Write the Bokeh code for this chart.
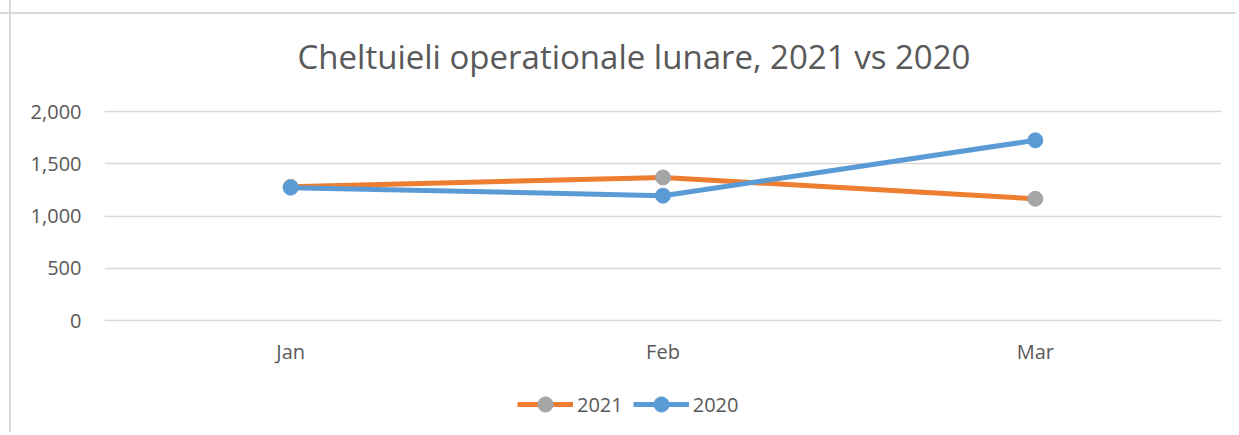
from bokeh.plotting import figure
from bokeh.models import ColumnDataSource, Legend, LegendItem, NumeralTickFormatter, FixedTicker, Range1d
from bokeh.embed import file_html
from bokeh.resources import INLINE

months = ["Jan", "Feb", "Mar"]
y2021 = [1280, 1370, 1165]
y2020 = [1272, 1195, 1725]
yticks = [0, 500, 1000, 1500, 2000]

TXT = "#595959"
GRID = "#D9D9D9"
FONT = "Open Sans"

src = ColumnDataSource(dict(m=months, a=y2021, b=y2020))

p = figure(x_range=months, y_range=Range1d(-1053, 2020),
           frame_width=1117, frame_height=321,
           output_backend="svg", toolbar_location=None,
           min_border_left=104, min_border_right=15, min_border_top=109, min_border_bottom=2)
p.border_fill_color = None
p.background_fill_color = "white"
p.outline_line_color = None
p.styles = {"background": "linear-gradient(#D9D9D9,#D9D9D9) 0 12px / 100% 2px no-repeat, "
                          "linear-gradient(#D9D9D9,#D9D9D9) 9px 0 / 2px 100% no-repeat"}

p.title.text = "Cheltuieli operationale lunare, 2021 vs 2020"
p.title.align = "left"
p.title.text_font = FONT
p.title.text_font_style = "normal"
p.title.text_font_size = "33px"
p.title.text_color = TXT
p.title.offset = 193
p.title.standoff = 61

p.xgrid.grid_line_color = None
p.ygrid.grid_line_color = GRID
p.ygrid.grid_line_width = 1.5
p.yaxis.ticker = FixedTicker(ticks=yticks)
p.yaxis.formatter = NumeralTickFormatter(format="0,0")
for ax in (p.xaxis, p.yaxis):
    ax.axis_line_color = None
    ax.major_tick_line_color = None
    ax.minor_tick_line_color = None
    ax.major_label_text_font = FONT
    ax.major_label_text_font_size = "20px"
    ax.major_label_text_color = TXT
p.yaxis.major_label_standoff = 17
p.xaxis.fixed_location = 0
p.xaxis.major_label_standoff = 11

l1 = p.line("m", "a", source=src, line_color="#ED7D31", line_width=5)
s1 = p.scatter("m", "a", source=src, size=15, fill_color="#A5A5A5", line_color="#A5A5A5")
l2 = p.line("m", "b", source=src, line_color="#5B9BD5", line_width=5)
s2 = p.scatter("m", "b", source=src, size=15, fill_color="#5B9BD5", line_color="#5B9BD5")

legend = Legend(items=[LegendItem(label="2021", renderers=[l1, s1]),
                       LegendItem(label="2020", renderers=[l2, s2])],
                orientation="horizontal", location=(413, 7),
                glyph_width=56, glyph_height=38, label_text_font=FONT,
                label_text_font_size="20px", label_text_color=TXT,
                label_standoff=4, spacing=10, padding=0, margin=0,
                border_line_color=None, background_fill_alpha=0)
p.add_layout(legend, "center")

open("out.html", "w").write(file_html(p, INLINE))
